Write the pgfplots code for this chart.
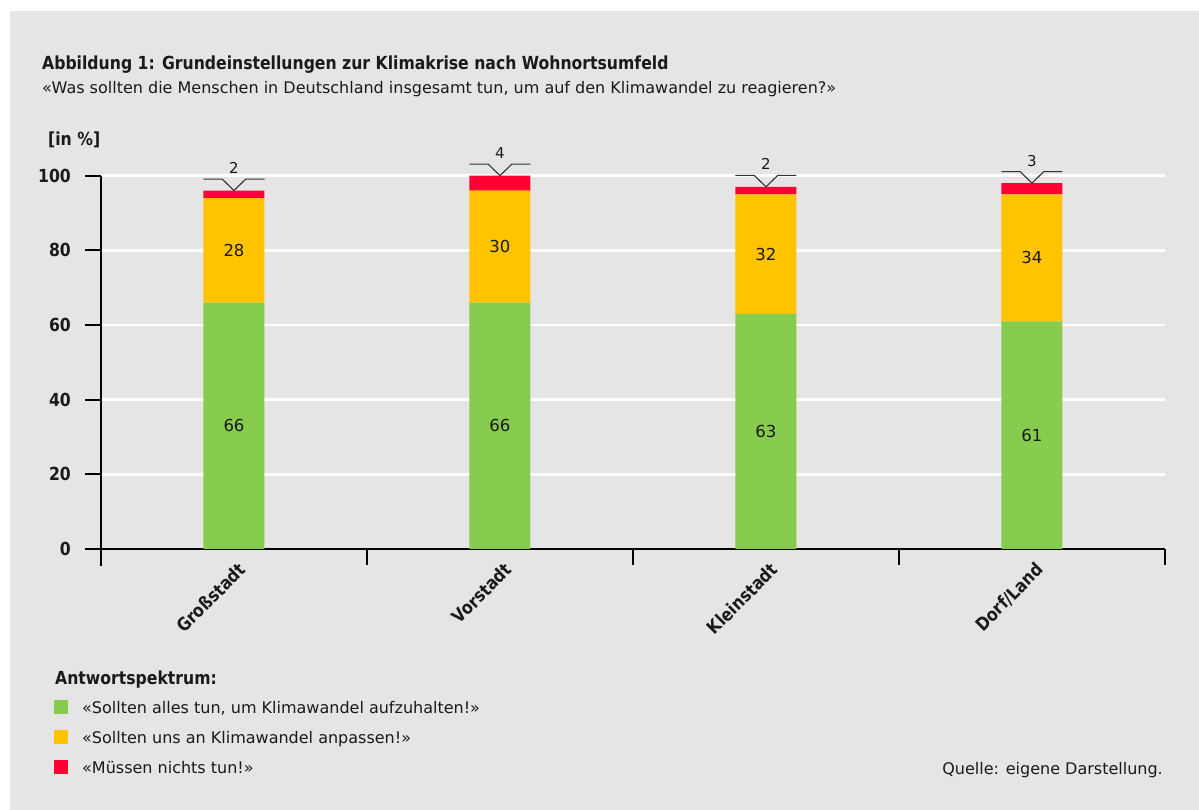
\documentclass[border=0pt]{standalone}
\usepackage{fontspec}
\setmainfont{DejaVu Sans}
\newfontfamily\bfc{DejaVu Sans}[FakeStretch=0.87]
\usepackage{pgfplots}
\usepackage{pgfplotstable}
\pgfplotsset{compat=1.18}
\definecolor{bg}{HTML}{E5E5E5}
\definecolor{cgreen}{HTML}{87CC4F}
\definecolor{cyellow}{HTML}{FFC300}
\definecolor{cred}{HTML}{FF0033}
\definecolor{txt}{HTML}{1A1A1A}
\definecolor{lgray}{HTML}{333333}
\newcommand\tb{\fontsize{18}{21}\selectfont\bfc\bfseries}
\newcommand\rg{\fontsize{16}{19}\selectfont}
\newcommand\barf{\fontsize{16.5}{19}\selectfont}
\newcommand\topf{\fontsize{15}{18}\selectfont}
\pgfdeclareplotmark{bracket}{%
  \pgfpathmoveto{\pgfpoint{-30.5pt}{11.5pt}}%
  \pgfpathlineto{\pgfpoint{-11.7pt}{11.5pt}}%
  \pgfpathlineto{\pgfpoint{0pt}{0pt}}%
  \pgfpathlineto{\pgfpoint{11.7pt}{11.5pt}}%
  \pgfpathlineto{\pgfpoint{30.5pt}{11.5pt}}%
  \pgfusepathqstroke}
\pgfplotsset{sq legend/.style={legend image code/.code={\fill[##1] (0pt,-7pt) rectangle (14pt,7pt);}}}

\pgfplotstableread{
x green yellow red
0 66 28 2
1 66 30 4
2 63 32 2
3 61 34 3
}\bars
\pgfplotstableread{
x y lab
0 33 66
0 80 28
1 33 66
1 81 30
2 31.5 63
2 79 32
3 30.5 61
3 78 34
}\midlabels
\pgfplotstableread{
x y lab
0 96 2
1 100 4
2 97 2
3 98 3
}\toplabels

\begin{document}
\begin{tikzpicture}
\path[use as bounding box] (0pt,0pt) rectangle (1199pt,810pt);
\fill[white] (0pt,0pt) rectangle (1199pt,810pt);
\fill[bg] (10pt,0pt) rectangle (1199pt,799pt);
\node[anchor=base west, inner sep=0pt, text=txt] at (42pt,740pt) {\tb Abbildung 1: Grundeinstellungen zur Klimakrise nach Wohnortsumfeld};
\node[anchor=base west, inner sep=0pt, text=txt] at (42pt,716pt) {\rg «Was sollten die Menschen in Deutschland insgesamt tun, um auf den Klimawandel zu reagieren?»};
\node[anchor=base west, inner sep=0pt, text=txt] at (48pt,664pt) {\tb [in \%]};
\node[anchor=base west, inner sep=0pt, text=txt] at (55pt,125pt) {\tb Antwortspektrum:};
\node[anchor=base east, inner sep=0pt, text=txt] at (1163pt,35pt) {\rg Quelle: eigene Darstellung.};

\begin{axis}[
  at={(101pt,261pt)}, anchor=south west,
  scale only axis, width=1064pt, height=373.3pt,
  xmin=-0.5, xmax=3.5, ymin=0, ymax=100,
  clip=false,
  ybar stacked, bar width=61pt,
  axis line style={draw=none},
  ytick={0,20,...,100}, ytick pos=left,
  xtick={0,1,2,3}, xticklabels={Großstadt,Vorstadt,Kleinstadt,Dorf/Land},
  minor xtick={-0.5,0.5,1.5,2.5,3.5}, xtick pos=bottom,
  tick align=outside, major tick length=16pt, minor tick length=16pt,
  tick style={line width=2pt, black},
  every major x tick/.append style={draw=none},
  /pgf/number format/assume math mode=true,
  yticklabel style={font=\tb, text=txt, inner sep=0pt, xshift=-14pt},
  xticklabel style={font=\tb, text=txt, inner sep=0pt, rotate=45, anchor=east, xshift=5pt, yshift=-7pt},
  ymajorgrids, y grid style={white, line width=2.5pt},
  legend style={at={(axis description cs:-0.04417,-0.4045)}, anchor=north west,
    draw=none, fill=none, inner sep=0pt, font=\rg, text=txt,
    nodes={inner sep=0pt, text height=12pt, text depth=0pt}, row sep=16pt, column sep=14pt},
  legend cell align=left,
]
\addplot[fill=cgreen, draw=none, sq legend] table[x=x,y=green]{\bars};
\addplot[fill=cyellow, draw=none, sq legend] table[x=x,y=yellow]{\bars};
\addplot[fill=cred, draw=none, sq legend] table[x=x,y=red]{\bars};
\legend{«Sollten alles tun{,} um Klimawandel aufzuhalten!»,«Sollten uns an Klimawandel anpassen!»,«Müssen nichts tun!»}
\draw[line width=2pt, black] (axis cs:-0.5,100) -- (axis cs:-0.5,0) -- ++(0pt,-17pt);
\draw[line width=2pt, black] (axis cs:3.5,0) -- (axis cs:-0.5,0) -- ++(-16pt,0pt);
\end{axis}

\begin{axis}[
  at={(101pt,261pt)}, anchor=south west,
  scale only axis, width=1064pt, height=373.3pt,
  xmin=-0.5, xmax=3.5, ymin=0, ymax=100,
  clip=false, hide axis,
]
\addplot[only marks, mark=none, draw=none, nodes near coords, point meta=explicit symbolic,
  every node near coord/.style={anchor=center, font=\barf, text=txt, inner sep=0pt}]
  table[x=x,y=y,meta=lab]{\midlabels};
\addplot[only marks, mark=bracket, color=lgray, mark options={line width=1.1pt},
  nodes near coords, point meta=explicit symbolic,
  every node near coord/.style={anchor=base, yshift=17pt, font=\topf, text=txt, inner sep=0pt}]
  table[x=x,y=y,meta=lab]{\toplabels};
\end{axis}
\end{tikzpicture}
\end{document}
